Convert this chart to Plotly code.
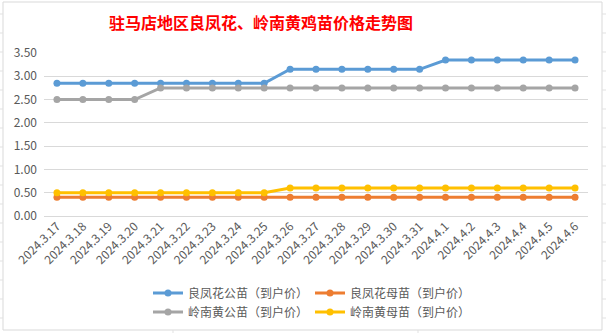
import plotly.graph_objects as go

# Dates (category axis) and chick prices in yuan per bird
dates = ["2024.3.17", "2024.3.18", "2024.3.19", "2024.3.20", "2024.3.21",
         "2024.3.22", "2024.3.23", "2024.3.24", "2024.3.25", "2024.3.26",
         "2024.3.27", "2024.3.28", "2024.3.29", "2024.3.30", "2024.3.31",
         "2024.4.1", "2024.4.2", "2024.4.3", "2024.4.4", "2024.4.5", "2024.4.6"]

lf_male = [2.85, 2.85, 2.85, 2.85, 2.85, 2.85, 2.85, 2.85, 2.85,
           3.15, 3.15, 3.15, 3.15, 3.15, 3.15,
           3.35, 3.35, 3.35, 3.35, 3.35, 3.35]
lf_female = [0.40] * 21
ln_male = [2.50, 2.50, 2.50, 2.50,
           2.75, 2.75, 2.75, 2.75, 2.75, 2.75, 2.75, 2.75, 2.75, 2.75, 2.75,
           2.75, 2.75, 2.75, 2.75, 2.75, 2.75]
ln_female = [0.50, 0.50, 0.50, 0.50, 0.50, 0.50, 0.50, 0.50, 0.50,
             0.60, 0.60, 0.60, 0.60, 0.60, 0.60,
             0.60, 0.60, 0.60, 0.60, 0.60, 0.60]

y_ticks = [0.0, 0.5, 1.0, 1.5, 2.0, 2.5, 3.0, 3.5]

series = [
    ("良凤花公苗（到户价）", lf_male, "#5B9BD5", "legend"),
    ("良凤花母苗（到户价）", lf_female, "#ED7D31", "legend"),
    ("岭南黄公苗（到户价）", ln_male, "#A5A5A5", "legend2"),
    ("岭南黄母苗（到户价）", ln_female, "#FFC000", "legend2"),
]

FONT = "Noto Sans CJK SC"
W, H = 606, 333
L, R, T, B = 44, 18, 53, 117
pw, ph = W - L - R, H - T - B


def px_x(x):
    return (x - L) / pw


def px_y(y):
    return (H - B - y) / ph


fig = go.Figure()
for name, vals, color, lg in series:
    fig.add_trace(go.Scatter(
        x=dates, y=vals, name=name, mode="lines+markers",
        line=dict(color=color, width=3),
        marker=dict(color=color, size=7, symbol="circle"),
        legend=lg,
    ))

# Chart frame and the faint sheet grid around it
shapes = [dict(type="rect", xref="paper", yref="paper",
               x0=px_x(3), x1=px_x(602), y0=px_y(330), y1=px_y(2),
               line=dict(color="#D9D9D9", width=1), fillcolor="rgba(0,0,0,0)",
               layer="below")]
for ry in range(14, 330, 19):
    for xa, xb in ((0, 3), (602, 606)):
        shapes.append(dict(type="line", xref="paper", yref="paper",
                           x0=px_x(xa), x1=px_x(xb), y0=px_y(ry), y1=px_y(ry),
                           line=dict(color="#E1E1E1", width=1)))
for cx in (173, 418):
    shapes.append(dict(type="line", xref="paper", yref="paper",
                       x0=px_x(cx), x1=px_x(cx), y0=px_y(330), y1=px_y(333),
                       line=dict(color="#E1E1E1", width=1)))

legend_common = dict(
    orientation="h", xanchor="center", yanchor="middle",
    x=px_x(310), font=dict(family=FONT, size=12, color="#595959"),
    entrywidth=117, entrywidthmode="pixels", itemclick=False,
    bgcolor="rgba(0,0,0,0)", tracegroupgap=0,
)

fig.update_layout(
    width=W, height=H,
    margin=dict(l=L, r=R, t=T, b=B, autoexpand=False),
    paper_bgcolor="white", plot_bgcolor="white",
    title=dict(text="<b>驻马店地区良凤花、岭南黄鸡苗价格走势图</b>",
               font=dict(family=FONT, size=16, color="#FF0000"),
               x=261 / W, xanchor="center", y=1 - 23 / H, yanchor="middle"),
    xaxis=dict(type="category", tickangle=-45, showgrid=False,
               showline=False, ticks="", automargin=False,
               tickfont=dict(family=FONT, size=12, color="#595959"),
               range=[-0.5, len(dates) - 0.5]),
    yaxis=dict(range=[0, 3.5], tickvals=y_ticks, tickformat=".2f",
               showgrid=True, gridcolor="#D9D9D9", gridwidth=1,
               zeroline=True, zerolinecolor="#D9D9D9", zerolinewidth=1,
               showline=False, ticks="", ticklabelstandoff=6,
               automargin=False,
               tickfont=dict(family=FONT, size=12, color="#595959")),
    legend=dict(y=px_y(293), **legend_common),
    legend2=dict(y=px_y(312), **legend_common),
    shapes=shapes,
    showlegend=True,
)

fig.write_html("out.html")
